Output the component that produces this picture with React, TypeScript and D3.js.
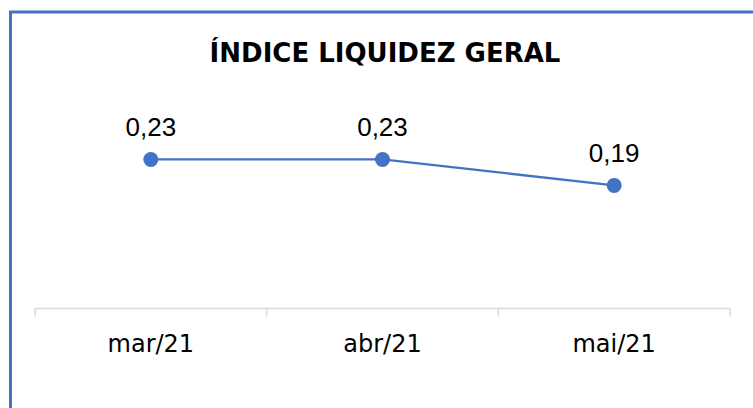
import React, { useEffect, useRef } from "react";
import * as d3 from "d3";

const categories = ["mar/21", "abr/21", "mai/21"];
const values = [0.23, 0.23, 0.19];
const labels = ["0,23", "0,23", "0,19"];
const title = "ÍNDICE LIQUIDEZ GERAL";

const width = 753;
const height = 408;
const blue = "#4472C4";

export default function App() {
  const svgRef = useRef<SVGSVGElement>(null);

  useEffect(() => {
    const svg = d3.select(svgRef.current);
    svg.selectAll("*").remove();

    // chart frame (only left and top visible in the crop)
    svg
      .append("rect")
      .attr("x", 10.5)
      .attr("y", 12)
      .attr("width", width + 20)
      .attr("height", height + 20)
      .attr("fill", "#fff")
      .attr("stroke", blue)
      .attr("stroke-width", 3);

    svg
      .append("text")
      .attr("x", 385)
      .attr("y", 62)
      .attr("text-anchor", "middle")
      .attr("font-family", "'DejaVu Sans', sans-serif")
      .attr("font-weight", "bold")
      .attr("font-size", 26)
      .attr("fill", "#000")
      .text(title);

    const x = d3.scaleBand().domain(categories).range([35, 730]);
    const y = d3.scaleLinear().domain([0, 0.25]).range([308.5, 146.5]);

    // axis
    const axis = svg.append("g").attr("transform", `translate(0,${y(0)})`);
    axis
      .call(
        d3
          .axisBottom(x)
          .tickSize(0)
          .tickPadding(26)
      )
      .call((g) => g.select(".domain").attr("stroke", "#d9d9d9").attr("stroke-width", 1.5))
      .call((g) =>
        g
          .selectAll("text")
          .attr("font-family", "'DejaVu Sans', sans-serif")
          .attr("font-size", 24)
          .attr("fill", "#000")
      );
    axis.select(".domain").attr("d", `M${x.range()[0]},0H${x.range()[1]}`);

    const tickXs = [...categories.map((c) => x(c) as number), x.range()[1]];
    axis
      .selectAll("line.sep")
      .data(tickXs)
      .enter()
      .append("line")
      .attr("class", "sep")
      .attr("x1", (d) => d)
      .attr("x2", (d) => d)
      .attr("y1", 0)
      .attr("y2", 8)
      .attr("stroke", "#d9d9d9")
      .attr("stroke-width", 1.5);

    const cx = (i: number) => (x(categories[i]) as number) + x.bandwidth() / 2;

    const line = d3
      .line<number>()
      .x((_, i) => cx(i))
      .y((d) => y(d));

    svg
      .append("path")
      .datum(values)
      .attr("fill", "none")
      .attr("stroke", blue)
      .attr("stroke-width", 2.25)
      .attr("stroke-linejoin", "round")
      .attr("d", line);

    svg
      .selectAll("circle.pt")
      .data(values)
      .enter()
      .append("circle")
      .attr("class", "pt")
      .attr("cx", (_, i) => cx(i))
      .attr("cy", (d) => y(d))
      .attr("r", 7.5)
      .attr("fill", blue);

    svg
      .selectAll("text.lbl")
      .data(values)
      .enter()
      .append("text")
      .attr("class", "lbl")
      .attr("x", (_, i) => cx(i))
      .attr("y", (d) => y(d) - 23)
      .attr("text-anchor", "middle")
      .attr("font-family", "'Liberation Sans', Arial, sans-serif")
      .attr("font-size", 26)
      .attr("fill", "#000")
      .text((_, i) => labels[i]);
  }, []);

  return (
    <svg
      ref={svgRef}
      width={width}
      height={height}
      style={{ position: "absolute", left: 0, top: 0, background: "#fff" }}
    />
  );
}
